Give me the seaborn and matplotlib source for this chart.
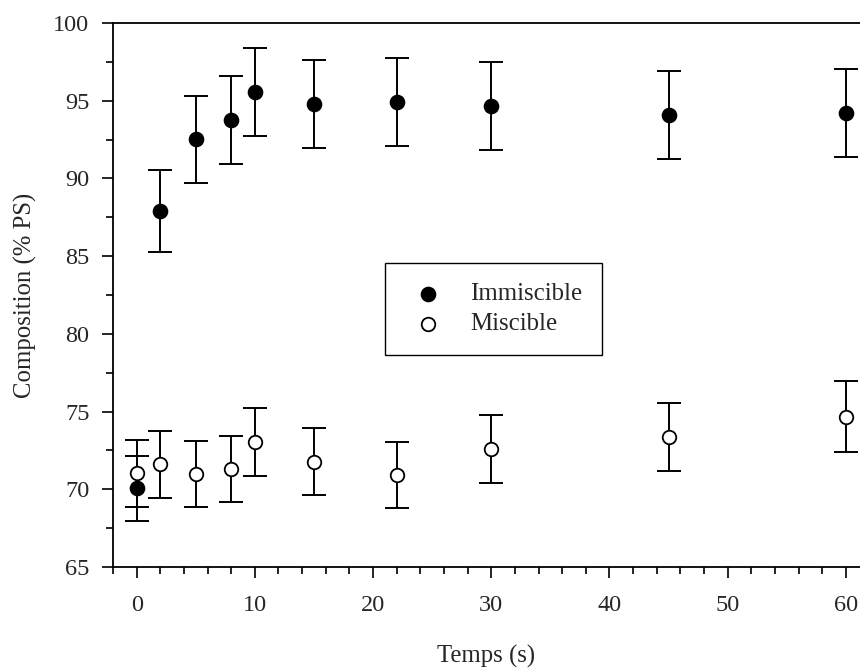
import numpy as np
import matplotlib
matplotlib.use("Agg")
import matplotlib.pyplot as plt
import seaborn as sns
from matplotlib.ticker import MultipleLocator

# data
temps = [0, 2, 5, 8, 10, 15, 22, 30, 45, 60]
immiscible = [70.06, 87.92, 92.51, 93.76, 95.56, 94.77, 94.92, 94.66, 94.08, 94.19]
immiscible_err = [2.1, 2.63, 2.78, 2.81, 2.86, 2.84, 2.84, 2.84, 2.83, 2.82]
miscible = [71.02, 71.62, 70.98, 71.30, 73.04, 71.77, 70.93, 72.59, 73.36, 74.67]
miscible_err = [2.15, 2.15, 2.12, 2.13, 2.17, 2.17, 2.13, 2.17, 2.2, 2.3]

sns.set_style("ticks")
plt.rcParams['font.family'] = ['Liberation Serif', 'DejaVu Serif']

fig = plt.figure(figsize=(8.6, 6.68), dpi=100)
ax = fig.add_axes([0.1314, 0.1512, 1 - 0.1314, 0.9656 - 0.1512])

# error bars first, markers on top
ax.errorbar(temps, immiscible, yerr=immiscible_err, fmt='none', ecolor='black',
            elinewidth=1.4, capsize=8.5, capthick=1.4, zorder=2)
ax.errorbar(temps, miscible, yerr=miscible_err, fmt='none', ecolor='black',
            elinewidth=1.4, capsize=8.5, capthick=1.4, zorder=2)

sns.scatterplot(x=temps, y=immiscible, ax=ax, color='black', edgecolor='black',
                s=105, marker='o', linewidth=1, label='Immiscible', zorder=3)
sns.scatterplot(x=temps, y=miscible, ax=ax, color='white', edgecolor='black',
                s=95, marker='o', linewidth=1.3, label='Miscible', zorder=4)

ax.set_xlim(-2, 61.2)
ax.set_ylim(65, 100)
ax.xaxis.set_major_locator(MultipleLocator(10))
ax.xaxis.set_minor_locator(MultipleLocator(2))
ax.yaxis.set_major_locator(MultipleLocator(5))
ax.yaxis.set_minor_locator(MultipleLocator(2.5))
ax.tick_params(which='major', direction='out', length=8, width=1.2,
               labelsize=17.5, color='black', pad=12)
ax.tick_params(which='minor', direction='out', length=5, width=1.2, color='black')
ax.tick_params(axis='y', which='major', pad=9)

for side in ['left', 'bottom', 'top']:
    ax.spines[side].set_visible(True)
    ax.spines[side].set_linewidth(1.3)
    ax.spines[side].set_color('black')
ax.spines['right'].set_visible(False)

ax.set_xlabel('Temps (s)', fontsize=17.8, labelpad=21)
ax.set_ylabel('Composition (% PS)', fontsize=17.8, labelpad=12)

leg = ax.legend(loc='upper left', bbox_to_anchor=(0.364, 0.559), fontsize=17.9,
                frameon=True, fancybox=False, edgecolor='black', framealpha=1,
                borderpad=0.8, handletextpad=0.78, labelspacing=0.3,
                borderaxespad=0, handlelength=1.86)
leg.get_frame().set_linewidth(1.0)

fig.savefig('out.png', dpi=100)
